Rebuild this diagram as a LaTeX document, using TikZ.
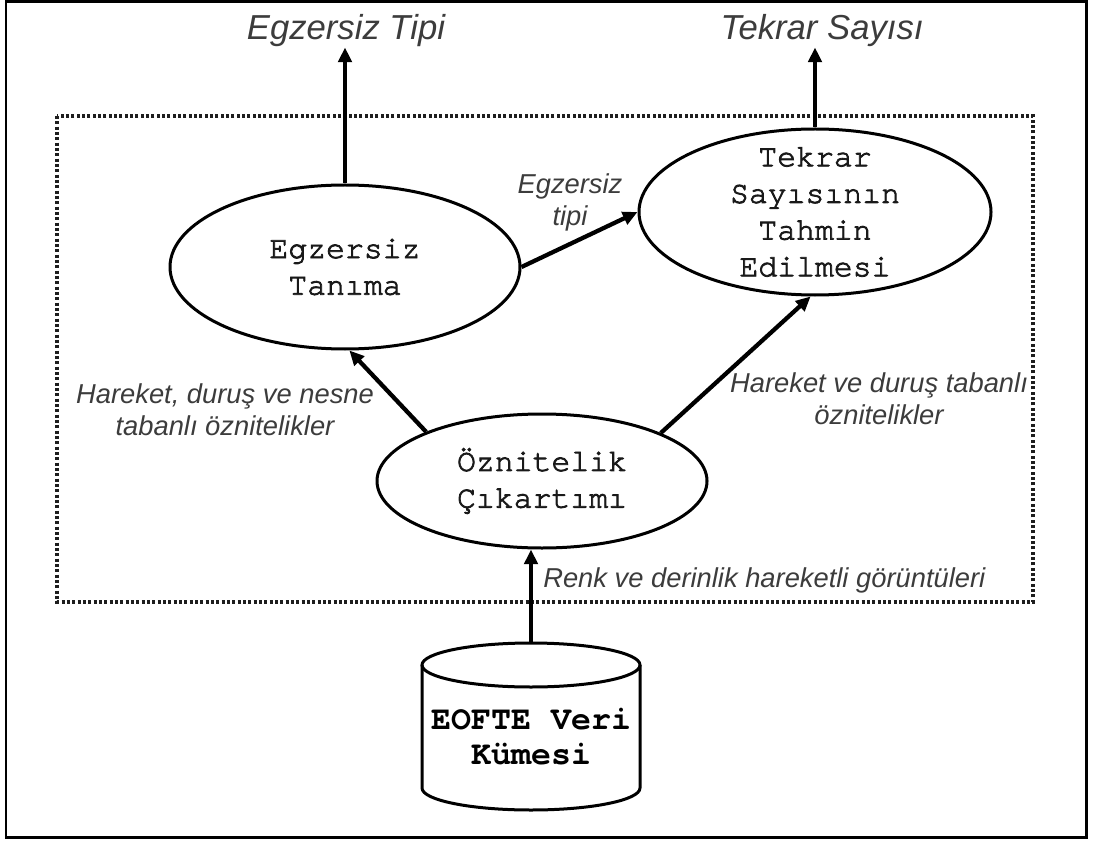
\documentclass[tikz,border=0pt]{standalone}
\usepackage{fontspec}
\usetikzlibrary{shapes.geometric,arrows.meta}
\newfontfamily\mySans{Liberation Sans}
\newfontfamily\myCourier{texgyrecursor-regular.otf}[FakeBold=2.5]
\newfontfamily\myCourierB{texgyrecursor-bold.otf}
\definecolor{lblgray}{HTML}{3c3c3c}
\definecolor{dotgray}{HTML}{1e1e1e}
\tikzset{
  proc/.style={ellipse, draw, line width=2.25pt, inner sep=0pt},
  proctext/.style={font=\myCourier\fontsize{23.6pt}{27.5pt}\selectfont, align=center, text=black!90, inner sep=0pt},
  dbtext/.style={font=\myCourierB\fontsize{25pt}{26.25pt}\selectfont, align=center, text=black, inner sep=0pt},
  lbl/.style={font=\mySans\itshape\fontsize{20.5pt}{24pt}\selectfont, align=center, text=lblgray, inner sep=0pt},
  ttl/.style={font=\mySans\itshape\fontsize{26pt}{30pt}\selectfont, text=lblgray, inner sep=0pt},
  flow/.style={line width=3.2pt, -{Triangle[length=11pt,width=10pt]}},
  frame/.style={dotgray, line width=2.5pt, dash pattern=on 2.3pt off 1.7pt},
  dbline/.style={line width=2.25pt},
}
\begin{document}
\begin{tikzpicture}[x=0.75pt,y=-0.75pt]
\useasboundingbox (0,0) rectangle (1094,841);
% outer frame
\draw[line width=2pt] (6,1.5) rectangle (1086.5,837.5);
% dotted system boundary
\draw[frame] (57,116) rectangle (1033,602);

% process ellipses
\node[proc, minimum width=262.5pt, minimum height=123pt] (E1) at (345,267) {};
\node[proctext] (E1t) at (E1.center) {Egzersiz\\Tanıma};
\node[proc, minimum width=264pt, minimum height=124.5pt] (E2) at (815,212) {};
\node[proctext] (E2t) at (E2.center) {Tekrar\\Sayısının\\Tahmin\\Edilmesi};
\node[proc, minimum width=247.5pt, minimum height=100.5pt] (E3) at (542,481) {};
\node[proctext] (E3t) at (E3.center) {Öznitelik\\Çıkartımı};

% database cylinder
\draw[dbline] (422,665) -- (422,788) arc[start angle=180, end angle=0, x radius=109, y radius=22] -- (640,665);
\draw[dbline] (531,665) ellipse[x radius=109, y radius=22];
\coordinate (DBtop) at (531,643);
\node[dbtext] (DB) at (531,737) {EOFTE Veri\\Kümesi};

% outputs
\node[ttl, anchor=base] (T1) at (346,40) {Egzersiz Tipi};
\node[ttl, anchor=base] (T2) at (822,40) {Tekrar Sayısı};

% labels
\node[lbl] (L1) at (570,202) {Egzersiz\\tipi};
\node[lbl] (L2) at (225,410) {Hareket, duruş ve nesne\\tabanlı öznitelikler};
\node[lbl] (L3) at (879,399) {Hareket ve duruş tabanlı\\öznitelikler};
\node[lbl, anchor=base west] (L4) at (543,587) {Renk ve derinlik hareketli görüntüleri};

% connectors
\draw[flow] (E1.north) -- (E1.north |- T1.south);
\draw[flow] (E2.north) -- (E2.north |- T2.south);
\draw[flow] (E1.east) -- (E2.west);
\draw[flow] (E3.157) -- (E1.273);
\draw[flow] (E3.22) -- (E2.267);
\draw[flow] (DBtop) -- (DBtop |- E3.south);
\end{tikzpicture}
\end{document}
